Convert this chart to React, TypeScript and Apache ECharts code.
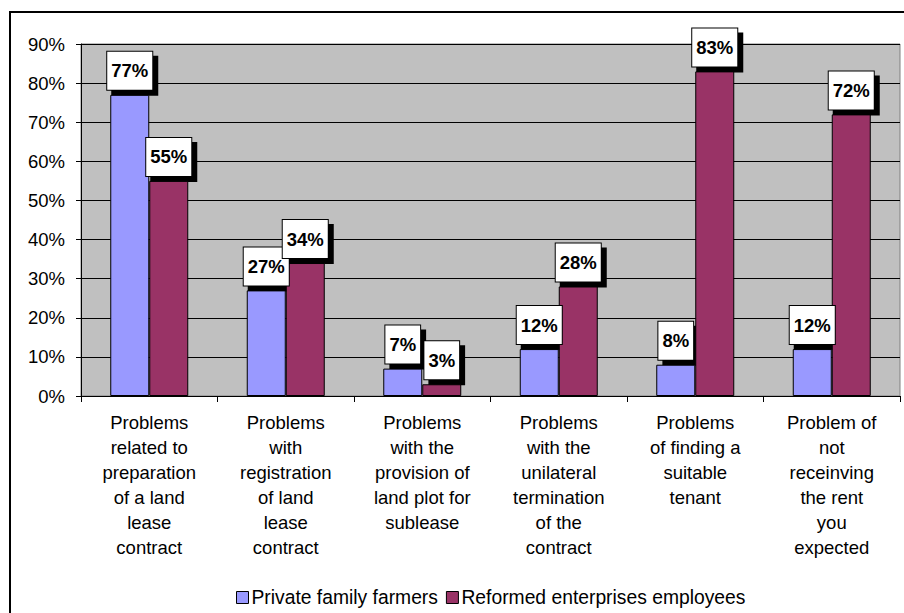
import React, { useEffect, useRef } from "react";
import * as echarts from "echarts";

const categories = [
  "Problems\nrelated to\npreparation\nof a land\nlease\ncontract",
  "Problems\nwith\nregistration\nof land\nlease\ncontract",
  "Problems\nwith the\nprovision of\nland plot for\nsublease",
  "Problems\nwith the\nunilateral\ntermination\nof the\ncontract",
  "Problems\nof finding a\nsuitable\ntenant",
  "Problem of\nnot\nreceinving\nthe rent\nyou\nexpected",
];
const seriesNames = ["Private family farmers", "Reformed enterprises employees"];
const privateFarmers = [77, 27, 7, 12, 8, 12];
const reformedEmployees = [55, 34, 3, 28, 83, 72];
const colors = ["#9999ff", "#993366"];
const FONT = "Arial, 'Liberation Sans', sans-serif";
const LABEL_SIZE = 18.5;

export default function App() {
  const ref = useRef<HTMLDivElement>(null);
  useEffect(() => {
    if (!ref.current) return;
    const chart = echarts.init(ref.current, undefined, { renderer: "svg" });
    const baseLabel = {
      show: true,
      position: "top",
      distance: 5,
      fontFamily: FONT,
      fontSize: LABEL_SIZE,
      lineHeight: 20,
      fontWeight: "bold",
      borderWidth: 1,
      padding: [9, 4, 9, 4],
    };
    const mk = (name: string, data: number[], color: string) => ({
      name,
      type: "bar",
      data,
      barWidth: 39,
      barGap: "0%",
      z: 3,
      itemStyle: { color, borderColor: "#000", borderWidth: 1 },
      label: {
        ...baseLabel,
        formatter: "{c}%",
        color: "#000",
        backgroundColor: "#ffffff",
        borderColor: "#000",
      },
    });
    // text width of "NN%" in bold Arial: digits 0.556em, % 0.889em
    const textW = (v: number) => (String(v).length * 0.556 + 0.889) * LABEL_SIZE;
    const mkShadow = (name: string, data: number[]) => ({
      name,
      type: "bar",
      data: data.map((v) => ({ value: v, label: { width: textW(v) } })),
      xAxisIndex: 1,
      barWidth: 39,
      barGap: "0%",
      z: 2,
      silent: true,
      itemStyle: { color: "rgba(0,0,0,0)", borderWidth: 0 },
      label: {
        ...baseLabel,
        formatter: " ",
        color: "#000",
        backgroundColor: "#000",
        borderColor: "#000",
        offset: [5, 5],
      },
    });
    chart.setOption({
      animation: false,
      textStyle: { fontFamily: FONT },
      graphic: [
        {
          type: "rect",
          shape: { x: 10, y: 12, width: 1000, height: 1000 },
          style: { fill: "none", stroke: "#000", lineWidth: 2 },
          z: 100,
        },
      ],
      grid: {
        left: 81,
        top: 44,
        right: 4,
        bottom: 217,
        show: true,
        backgroundColor: "#c0c0c0",
        borderColor: "#808080",
        borderWidth: 1,
      },
      legend: {
        top: 583,
        left: 231,
        itemWidth: 12,
        itemHeight: 12,
        itemGap: 8,
        icon: "rect",
        textStyle: { fontSize: 19.3, color: "#000", fontFamily: FONT, padding: [0, 0, 0, -2] },
        data: seriesNames,
        itemStyle: { borderColor: "#000", borderWidth: 1 },
      },
      xAxis: [
        {
          type: "category",
          data: categories,
          axisLine: { lineStyle: { color: "#000", width: 1 } },
          axisTick: { show: true, length: 6, lineStyle: { color: "#000" } },
          axisLabel: {
            interval: 0,
            margin: 14,
            fontSize: 18.5,
            lineHeight: 25,
            color: "#000",
            fontFamily: FONT,
          },
        },
        {
          type: "category",
          data: categories,
          show: false,
        },
      ],
      yAxis: {
        type: "value",
        min: 0,
        max: 90,
        interval: 10,
        axisLine: { show: true, lineStyle: { color: "#000", width: 1 } },
        axisTick: { show: true, length: 5, lineStyle: { color: "#000" } },
        splitLine: { show: true, lineStyle: { color: "#000", width: 1 } },
        axisLabel: {
          formatter: "{value}%",
          fontSize: 18.5,
          color: "#000",
          margin: 16,
          fontFamily: FONT,
        },
      },
      series: [
        mkShadow("shadowA", privateFarmers),
        mkShadow("shadowB", reformedEmployees),
        mk(seriesNames[0], privateFarmers, colors[0]),
        mk(seriesNames[1], reformedEmployees, colors[1]),
      ],
    });
    return () => chart.dispose();
  }, []);
  return (
    <div
      ref={ref}
      style={{ position: "absolute", left: 0, top: 0, width: 904, height: 613, background: "#fff" }}
    />
  );
}
